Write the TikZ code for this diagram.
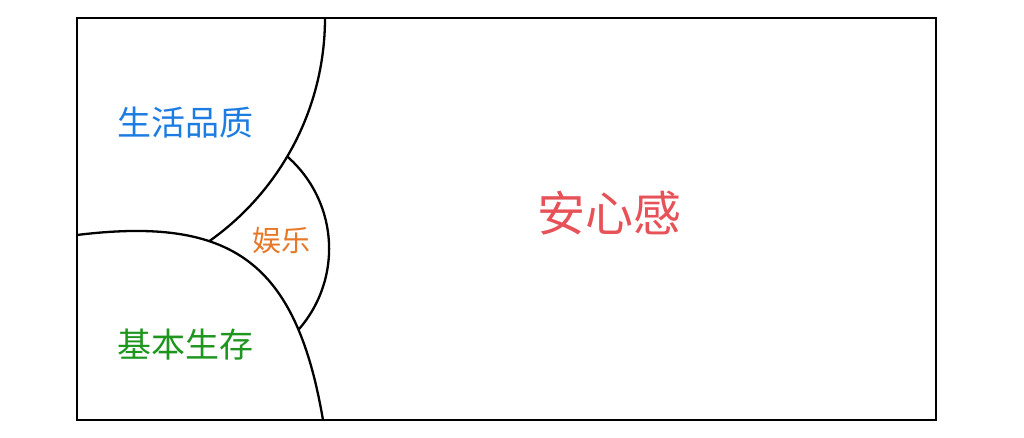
\documentclass[tikz,border=0pt]{standalone}
\usepackage{fontspec}
\newfontfamily\cjk{Noto Sans CJK SC}
\definecolor{cblue}{RGB}{28,124,226}
\definecolor{cgreen}{RGB}{30,150,30}
\definecolor{corange}{RGB}{232,120,40}
\definecolor{cred}{RGB}{230,82,88}
\tikzset{
  edge/.style={line width=2.3pt, black},
  lbl/.style={font=\cjk, inner sep=0pt},
}
\begin{document}
\begin{tikzpicture}[x=1pt,y=1pt]
\useasboundingbox (0,0) rectangle (1024,438);
% lower curve (basic survival)
\draw[edge] (77,203) .. controls (232,222) and (296,176) .. (323,18);
% upper arc (quality of life), clipped at the lower curve
\begin{scope}
  \clip (77,203) .. controls (232,222) and (296,176) .. (323,18)
        -- (1024,18) -- (1024,438) -- (0,438) -- (0,203) -- cycle;
  \draw[edge] (325,420) arc[start angle=0, end angle=-75, radius=273];
\end{scope}
% lens arc (entertainment), outside both regions
\begin{scope}[even odd rule]
  \clip (0,0) rectangle (1024,438) (52,420) circle[radius=273];
  \begin{scope}
    \clip (77,203) .. controls (232,222) and (296,176) .. (323,18)
          -- (1024,18) -- (1024,438) -- (0,438) -- (0,203) -- cycle;
    \draw[edge] (206.6,189.3) ++(60:122.5) arc[start angle=60, end angle=-55, radius=122.5];
  \end{scope}
\end{scope}
% frame
\draw[edge] (77,18) rectangle (936,420);
% labels
\node[lbl, text=cblue, font=\cjk\fontsize{34}{34}\selectfont] (quality) at (185,315) {生活品质};
\node[lbl, text=cgreen, font=\cjk\fontsize{34}{34}\selectfont] (basic) at (185,93) {基本生存};
\node[lbl, text=corange, font=\cjk\fontsize{29}{29}\selectfont] (fun) at (281,197) {娱乐};
\node[lbl, text=cred, font=\cjk\fontsize{48}{48}\selectfont] (safe) at (609,225) {安心感};
\end{tikzpicture}
\end{document}
